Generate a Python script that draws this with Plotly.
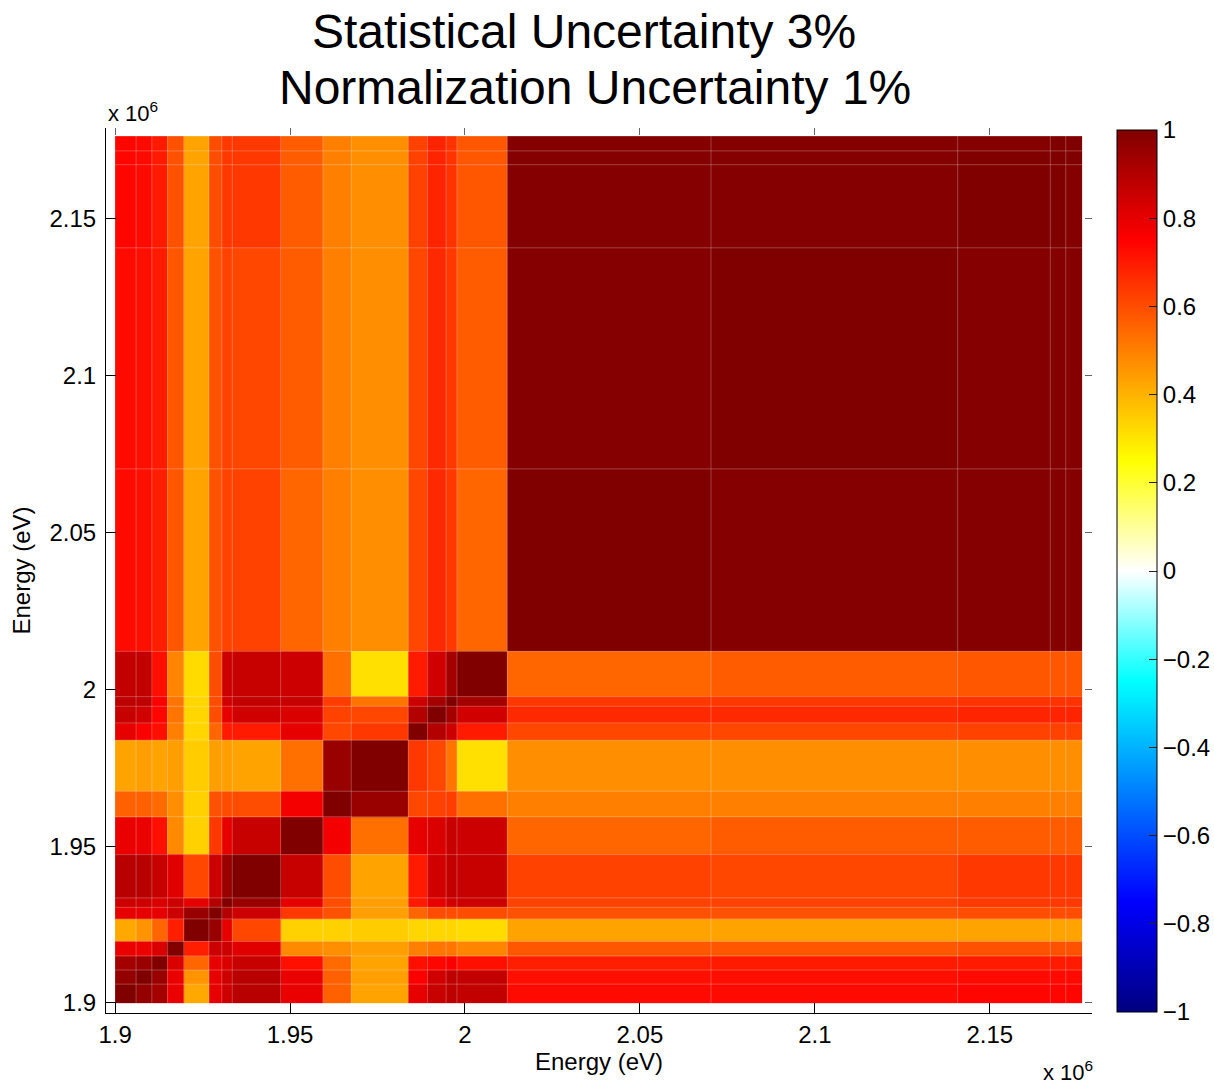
import numpy as np
import plotly.graph_objects as go

# ---------------- data ----------------
# energy bin edges (eV), shared by both axes (symmetric correlation matrix)
bin_edges_ev = [1.9000e6, 1.9060e6, 1.9105e6, 1.9150e6, 1.9196e6, 1.9268e6,
                1.9305e6, 1.9335e6, 1.9473e6, 1.9594e6, 1.9675e6, 1.9838e6,
                1.9893e6, 1.9946e6, 1.9977e6, 2.0121e6, 2.0703e6, 2.1408e6,
                2.1673e6, 2.1717e6, 2.1764e6]

# lower triangle of the correlation matrix (row j holds columns 0..j)
corr_lower = [
    [1.00],
    [0.96, 1.00],
    [0.93, 0.95, 1.00],
    [0.79, 0.79, 0.82, 1.00],
    [0.42, 0.46, 0.55, 0.69, 1.00],
    [0.80, 0.80, 0.80, 0.85, 0.95, 1.00],
    [0.85, 0.85, 0.82, 0.85, 0.80, 0.90, 1.00],
    [0.89, 0.89, 0.86, 0.81, 0.61, 0.85, 0.95, 1.00],
    [0.79, 0.79, 0.72, 0.48, 0.34, 0.64, 0.80, 0.86, 1.00],
    [0.56, 0.56, 0.54, 0.47, 0.34, 0.59, 0.60, 0.60, 0.77, 1.00],
    [0.43, 0.44, 0.43, 0.44, 0.35, 0.44, 0.44, 0.43, 0.53, 0.95, 1.00],
    [0.80, 0.76, 0.72, 0.50, 0.33, 0.55, 0.70, 0.70, 0.80, 0.61, 0.64, 1.00],
    [0.86, 0.84, 0.74, 0.52, 0.33, 0.60, 0.80, 0.84, 0.82, 0.62, 0.61, 0.90, 1.00],
    [0.88, 0.88, 0.76, 0.52, 0.33, 0.60, 0.84, 0.87, 0.86, 0.63, 0.52, 0.85, 0.93, 1.00],
    [0.87, 0.87, 0.72, 0.49, 0.32, 0.60, 0.85, 0.86, 0.85, 0.53, 0.31, 0.70, 0.84, 0.93, 1.00],
    [0.73, 0.72, 0.69, 0.58, 0.43, 0.59, 0.62, 0.62, 0.55, 0.50, 0.47, 0.61, 0.67, 0.64, 0.55, 1.00],
    [0.73, 0.72, 0.70, 0.58, 0.43, 0.59, 0.62, 0.61, 0.57, 0.50, 0.47, 0.61, 0.67, 0.64, 0.57, 0.99, 1.00],
    [0.74, 0.73, 0.70, 0.59, 0.43, 0.60, 0.64, 0.64, 0.57, 0.50, 0.47, 0.62, 0.68, 0.65, 0.58, 0.99, 0.99, 1.00],
    [0.74, 0.73, 0.70, 0.59, 0.43, 0.60, 0.64, 0.64, 0.57, 0.50, 0.47, 0.62, 0.68, 0.65, 0.58, 0.99, 0.99, 1.00, 1.00],
    [0.74, 0.73, 0.70, 0.59, 0.43, 0.60, 0.64, 0.64, 0.57, 0.50, 0.47, 0.62, 0.68, 0.65, 0.58, 0.99, 0.99, 0.99, 1.00, 1.00],
]

tick_vals_ev = [1.90e6, 1.95e6, 2.00e6, 2.05e6, 2.10e6, 2.15e6]
tick_text = ["1.9", "1.95", "2", "2.05", "2.1", "2.15"]
cbar_vals = [1.0, 0.8, 0.6, 0.4, 0.2, 0.0, -0.2, -0.4, -0.6, -0.8, -1.0]
cbar_text = ["1", "0.8", "0.6", "0.4", "0.2", "0", "\u22120.2", "\u22120.4",
             "\u22120.6", "\u22120.8", "\u22121"]
title_lines = ["Statistical Uncertainty 3%", "Normalization Uncertainty 1%"]
axis_label = "Energy (eV)"

# ---------------- build symmetric matrix ----------------
n = len(bin_edges_ev) - 1
z = np.zeros((n, n))
for j, row in enumerate(corr_lower):
    for i, v in enumerate(row):
        z[j, i] = v
        z[i, j] = v

colorscale = [[0.0, "#000080"], [0.125, "#0000ff"], [0.375, "#00ffff"],
              [0.5, "#ffffff"], [0.625, "#ffff00"], [0.875, "#ff0000"],
              [1.0, "#800000"]]

FONT = "Liberation Sans, Arial, Helvetica, sans-serif"

fig = go.Figure()
fig.add_trace(go.Heatmap(
    x=bin_edges_ev, y=bin_edges_ev, z=z,
    zmin=-1, zmax=1, colorscale=colorscale,
    hoverinfo="skip",
    colorbar=dict(
        thickness=40, thicknessmode="pixels",
        len=882, lenmode="pixels",
        x=1.0254, xanchor="left", xpad=0,
        y=0.4994, yanchor="middle", ypad=0,
        outlinecolor="black", outlinewidth=1,
        tickvals=cbar_vals, ticktext=cbar_text,
        ticks="inside", ticklen=8, tickcolor="#222",
        tickfont=dict(family=FONT, size=24, color="black"),
    ),
))

# faint cell-edge lines (from bin edges)
shapes = []
lo, hi = bin_edges_ev[0], bin_edges_ev[-1]
for e in bin_edges_ev[1:-1]:
    shapes.append(dict(type="line", xref="x", yref="y", x0=e, x1=e, y0=lo, y1=hi,
                       line=dict(color="rgba(255,255,255,0.25)", width=1), layer="above"))
    shapes.append(dict(type="line", xref="x", yref="y", x0=lo, x1=hi, y0=e, y1=e,
                       line=dict(color="rgba(255,255,255,0.25)", width=1), layer="above"))

# empty trace so that the mirrored tick axes render
fig.add_trace(go.Scatter(x=[None], y=[None], xaxis="x2", yaxis="y2",
                         showlegend=False, hoverinfo="skip"))

xr = [1.8974e6, 2.1792e6]
yr = [1.8968e6, 2.1790e6]

axis_common = dict(showgrid=False, zeroline=False, ticks="inside", ticklen=10,
                   tickcolor="black", tickwidth=1,
                   tickfont=dict(family=FONT, size=24, color="black"),
                   tickvals=tick_vals_ev, ticktext=tick_text)

fig.update_layout(
    width=1214, height=1085,
    margin=dict(l=106, r=122, t=128, b=72, autoexpand=False),
    paper_bgcolor="white", plot_bgcolor="white",
    showlegend=False,
    font=dict(family=FONT, color="black"),
    shapes=shapes,
    xaxis=dict(range=xr, showline=True, linecolor="black", linewidth=1,
               title=dict(text=axis_label, font=dict(family=FONT, size=24), standoff=2),
               **axis_common),
    yaxis=dict(range=yr, showline=True, linecolor="black", linewidth=1,
               title=dict(text=axis_label, font=dict(family=FONT, size=24), standoff=12),
               ticklabelstandoff=4,
               **axis_common),
    xaxis2=dict(range=xr, overlaying="x", side="top", anchor="y", showgrid=False,
                zeroline=False, showline=False, ticks="inside", ticklen=7,
                tickcolor="#666", tickvals=tick_vals_ev, showticklabels=False),
    yaxis2=dict(range=yr, overlaying="y", side="right", anchor="x", showgrid=False,
                zeroline=False, showline=False, ticks="inside", ticklen=7,
                tickcolor="#666", tickvals=tick_vals_ev, showticklabels=False),
    annotations=[
        dict(text=title_lines[0], xref="paper", yref="paper", x=0.485, y=1.1096,
             xanchor="center", yanchor="middle", showarrow=False,
             font=dict(family=FONT, size=48, color="black")),
        dict(text=title_lines[1], xref="paper", yref="paper", x=0.496, y=1.0452,
             xanchor="center", yanchor="middle", showarrow=False,
             font=dict(family=FONT, size=48, color="black")),
        dict(text="x 10<sup>6</sup>", xref="paper", yref="paper", x=0.0, y=1.018,
             xanchor="left", yanchor="middle", showarrow=False,
             font=dict(family=FONT, size=22, color="black")),
        dict(text="x 10<sup>6</sup>", xref="paper", yref="paper", x=1.003, y=-0.066,
             xanchor="right", yanchor="middle", showarrow=False,
             font=dict(family=FONT, size=22, color="black")),
    ],
)

fig.write_html("out.html")
